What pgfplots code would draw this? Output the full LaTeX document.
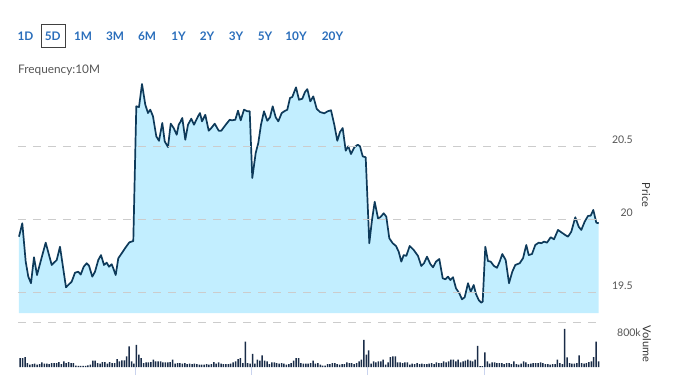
\documentclass[border=0pt]{standalone}
\usepackage{fontspec}
\setmainfont{Lato}
\usepackage{pgfplots}
\usepackage{pgfplotstable}
\pgfplotsset{compat=1.18}
\definecolor{btn}{HTML}{2A6EBB}
\definecolor{fillc}{HTML}{C2EEFF}
\definecolor{linec}{HTML}{0E3A5A}
\definecolor{barc}{HTML}{1A2C48}
\definecolor{gridc}{HTML}{CCCCCC}
\definecolor{lab}{HTML}{555555}
\definecolor{dayt}{HTML}{C9D3EE}

\pgfplotstableread{
x y
19 19.879
22.3 19.971
25.7 19.708
28.3 19.605
31 19.560
34 19.738
37 19.616
41 19.719
45.7 19.838
51.7 19.685
56.7 19.719
60 19.810
66 19.532
68.3 19.548
71.7 19.571
75 19.632
78.3 19.639
80.7 19.619
83.7 19.673
86.7 19.697
89 19.680
92.3 19.605
95 19.639
98.3 19.719
101 19.753
104 19.685
106.7 19.701
109 19.673
111.7 19.690
113.3 19.662
115.7 19.616
118.3 19.731
121.7 19.765
125 19.799
129.3 19.840
133.3 19.849
136.3 20.772
139 20.767
142 20.925
145.3 20.783
148 20.726
150.3 20.749
153 20.703
156.3 20.566
159 20.536
162.3 20.658
164.7 20.532
168 20.493
170.7 20.653
173.7 20.623
176.7 20.577
178.7 20.646
180.3 20.664
182.3 20.692
185.3 20.543
188 20.646
191.3 20.687
194 20.646
198 20.703
200 20.726
202 20.669
205.3 20.714
208.7 20.605
211.3 20.623
214.7 20.653
218.7 20.605
221.3 20.605
225.3 20.642
229.7 20.680
232 20.676
235.3 20.680
238 20.742
240.7 20.676
244 20.749
247.3 20.738
249.7 20.738
252.3 20.281
255.7 20.452
258.3 20.521
261 20.646
264 20.738
267.3 20.673
270 20.697
272.7 20.772
275.7 20.697
278.3 20.669
281.7 20.726
284.3 20.738
287.3 20.749
290 20.829
292.3 20.836
296 20.902
299 20.817
302.3 20.824
305 20.870
307.3 20.890
310.3 20.806
313.3 20.840
316.7 20.755
320 20.733
324.3 20.724
327.7 20.738
331 20.745
334.3 20.646
337.3 20.536
340 20.596
342.7 20.623
345.7 20.468
348.3 20.498
351 20.445
354.3 20.491
357.7 20.509
360 20.498
362.7 20.429
365.7 20.423
369.3 19.834
372 19.993
374.7 20.118
378 20.005
380.3 20.012
383.7 20.039
386.3 20.016
389.3 19.868
392.7 19.834
396 19.815
398.7 19.776
401.3 19.708
403.7 19.753
406.3 19.747
409.7 19.815
413.7 19.788
418 19.747
421.3 19.678
424 19.697
427 19.742
430.3 19.692
433 19.669
436 19.708
439.3 19.726
442.7 19.594
445.3 19.587
448 19.605
450.3 19.582
453 19.601
456 19.525
459.3 19.491
462 19.450
464.7 19.464
468 19.560
470.7 19.502
473.7 19.548
476 19.486
478.7 19.445
481.3 19.427
482.7 19.434
485.3 19.810
488 19.712
490.7 19.708
494 19.678
497 19.666
499.7 19.708
502.3 19.760
505.7 19.719
509 19.560
512.3 19.639
515.3 19.685
519.7 19.697
523 19.731
526.3 19.822
528.7 19.753
532 19.760
535.3 19.822
538.7 19.838
541.3 19.834
544 19.845
547 19.838
550.7 19.875
554 19.861
558 19.925
561.3 19.909
565.3 19.890
568 19.879
571.3 19.913
575.3 20.012
578.7 19.947
581.3 19.925
584.7 19.982
588 20.021
590.7 20.023
593.3 20.062
596.3 19.975
598.7 19.971
}\price

\pgfplotstableread[row sep=\\]{
vol\\
159\\159\\176\\71\\41\\53\\59\\41\\53\\82\\59\\59\\53\\71\\71\\71\\88\\53\\100\\71\\88\\71\\71\\24\\18\\18\\18\\18\\29\\41\\112\\112\\71\\59\\88\\88\\59\\88\\71\\71\\141\\100\\118\\118\\188\\365\\100\\60\\
394\\218\\159\\71\\82\\82\\88\\129\\100\\100\\100\\82\\82\\82\\88\\129\\59\\71\\71\\59\\71\\53\\59\\53\\59\\53\\41\\41\\41\\53\\41\\53\\88\\59\\82\\59\\53\\53\\53\\59\\82\\100\\141\\159\\71\\453\\71\\60\\
235\\59\\129\\112\\206\\112\\100\\53\\82\\82\\71\\59\\71\\59\\41\\53\\71\\112\\159\\159\\71\\59\\59\\59\\71\\112\\59\\71\\41\\24\\24\\53\\53\\71\\71\\53\\41\\53\\53\\82\\71\\71\\53\\71\\100\\129\\482\\218\\
294\\59\\100\\82\\100\\100\\129\\41\\82\\176\\188\\188\\82\\82\\71\\82\\82\\41\\59\\53\\71\\53\\59\\53\\53\\59\\71\\53\\82\\71\\71\\100\\82\\100\\129\\129\\100\\129\\82\\100\\112\\129\\112\\100\\129\\376\\15\\15\\
259\\100\\59\\82\\82\\71\\71\\71\\53\\71\\71\\53\\100\\53\\41\\59\\100\\82\\53\\59\\71\\71\\71\\82\\71\\53\\53\\41\\53\\53\\129\\71\\53\\676\\170\\71\\59\\59\\71\\206\\71\\59\\71\\88\\100\\176\\453\\100\\
}\volume

\begin{document}
\begin{tikzpicture}[x=1pt,y=1pt]
\useasboundingbox (0,0) rectangle (678,381);
% range buttons
\foreach \t/\xx in {1D/25.5,5D/52.8,1M/83,3M/115,6M/147,1Y/178.5,2Y/207,3Y/236,5Y/265,10Y/296,20Y/332.5}
  \node[font=\fontsize{11.8}{13}\selectfont\bfseries, text=btn, inner sep=0pt] at (\xx,345) {\t};
\draw[black!75, line width=0.9pt] (41,357) rectangle (65,334);
\node[anchor=west, font=\fontsize{11.8}{13}\selectfont, text=lab, inner sep=0pt] at (18,311) {Frequency:10M};

\begin{axis}[at={(18pt,68pt)}, anchor=south west, scale only axis,
  width=582pt, height=235pt,
  xmin=18, xmax=600, ymin=19.356, ymax=20.966,
  axis line style={draw=none}, major tick length=0pt,
  xtick=\empty, ytick={19.5,20,20.5}, yticklabels={19.5,20,20.5},
  yticklabel pos=right,
  yticklabel style={anchor=east, inner sep=0pt, xshift=33pt, yshift=6pt,
    font=\fontsize{10.5}{12}\selectfont, text=lab},
  ymajorgrids, grid style={dash pattern=on 8pt off 7pt, color=gridc, line width=0.8pt},
  axis on top]
\addplot[draw=none, fill=fillc] table {\price} \closedcycle;
\addplot[color=linec, line width=1.7pt, line join=round] table {\price};
\end{axis}

\begin{axis}[at={(18pt,14pt)}, anchor=south west, scale only axis,
  width=582pt, height=45pt,
  xmin=18, xmax=600, ymin=0, ymax=800, clip=false,
  axis line style={draw=none},
  xtick={135,251,367,484}, xticklabels={}, xtick pos=bottom,
  tick align=outside, major tick length=8pt,
  xtick style={draw=dayt, line width=1pt},
  ytick={800}, yticklabels={800k}, ytick style={draw=none},
  yticklabel pos=right,
  yticklabel style={anchor=east, inner sep=0pt, xshift=33pt, yshift=-11pt,
    font=\fontsize{10.5}{12}\selectfont, text=lab},
  ymajorgrids, grid style={dash pattern=on 8pt off 7pt, color=gridc, line width=0.8pt},
  ybar, bar width=1.5pt]
\addplot[fill=barc, draw=none] table[x expr=20.2+2.42*\coordindex, y=vol] {\volume};
\end{axis}

\node[rotate=-90, font=\fontsize{11}{12}\selectfont, text=black!80, inner sep=0pt] at (646,186) {Price};
\node[rotate=-90, font=\fontsize{11}{12}\selectfont, text=black!80, inner sep=0pt] at (647,37) {Volume};
\end{tikzpicture}
\end{document}
